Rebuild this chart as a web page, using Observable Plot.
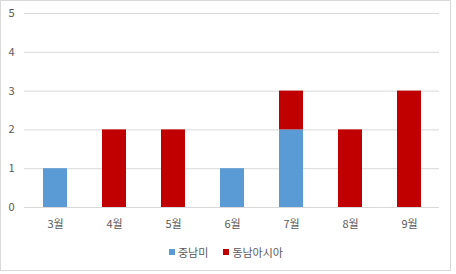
<!DOCTYPE html>
<html>
<head>
<meta charset="utf-8">
<script src="https://cdn.jsdelivr.net/npm/d3@7"></script>
<script src="https://cdn.jsdelivr.net/npm/@observablehq/plot@0.6"></script>
<style>
  html, body { margin: 0; padding: 0; background: #fff; }
  #wrap { position: relative; width: 456px; height: 274px; overflow: hidden; font-family: "Noto Sans CJK KR", "Noto Sans", sans-serif; }
  #frame { position: absolute; left: 0; top: 0; width: 451px; height: 271px; box-sizing: border-box; border: 1px solid #d9d9d9; pointer-events: none; }
  #chart { position: absolute; left: 0; top: 0; }
  #legend { position: absolute; left: 169px; top: 244px; display: flex; align-items: center; font-size: 11px; color: #595959; white-space: nowrap; }
  #legend .sw { display: inline-block; width: 6px; height: 6px; margin-right: 3px; }
  #legend .item { display: flex; align-items: center; margin-right: 15px; }
</style>
</head>
<body>
<div id="wrap">
  <div id="chart"></div>
  <div id="legend"></div>
  <div id="frame"></div>
</div>
<script>
const months = ["3월", "4월", "5월", "6월", "7월", "8월", "9월"];
const seriesNames = ["중남미", "동남아시아"];
const latinAmerica = [1, 0, 0, 1, 2, 0, 0];
const southeastAsia = [0, 2, 2, 0, 1, 2, 3];
const yTicks = [0, 1, 2, 3, 4, 5];
const colors = ["#5B9BD5", "#C00000"];

const rows = [];
months.forEach((m, i) => {
  rows.push({month: m, series: seriesNames[0], value: latinAmerica[i]});
  rows.push({month: m, series: seriesNames[1], value: southeastAsia[i]});
});

const chart = Plot.plot({
  width: 456,
  height: 240,
  marginTop: 13,
  marginBottom: 33,
  marginLeft: 24,
  marginRight: 17,
  style: { fontFamily: '"Noto Sans CJK KR", "Noto Sans", sans-serif', fontSize: "11px", color: "#595959", background: "transparent" },
  x: { type: "band", domain: months, paddingInner: 0.6, paddingOuter: 0.3, label: null },
  y: { domain: [0, 5], label: null },
  color: { domain: seriesNames, range: colors },
  marks: [
    Plot.ruleY(yTicks, { stroke: "#d9d9d9", strokeWidth: 1 }),
    Plot.barY(rows, Plot.stackY({ order: seriesNames, x: "month", y: "value", fill: "series" })),
    Plot.axisX({ tickSize: 0, tickPadding: 13, label: null, fill: "#595959" }),
    Plot.axisY({ ticks: yTicks, tickFormat: d => String(d), tickSize: 0, tickPadding: 10, label: null, fill: "#595959" })
  ]
});
document.getElementById("chart").appendChild(chart);

const legend = document.getElementById("legend");
seriesNames.forEach((name, i) => {
  const item = document.createElement("span");
  item.className = "item";
  const sw = document.createElement("span");
  sw.className = "sw";
  sw.style.background = colors[i];
  item.appendChild(sw);
  item.appendChild(document.createTextNode(name));
  legend.appendChild(item);
});
</script>
</body>
</html>
